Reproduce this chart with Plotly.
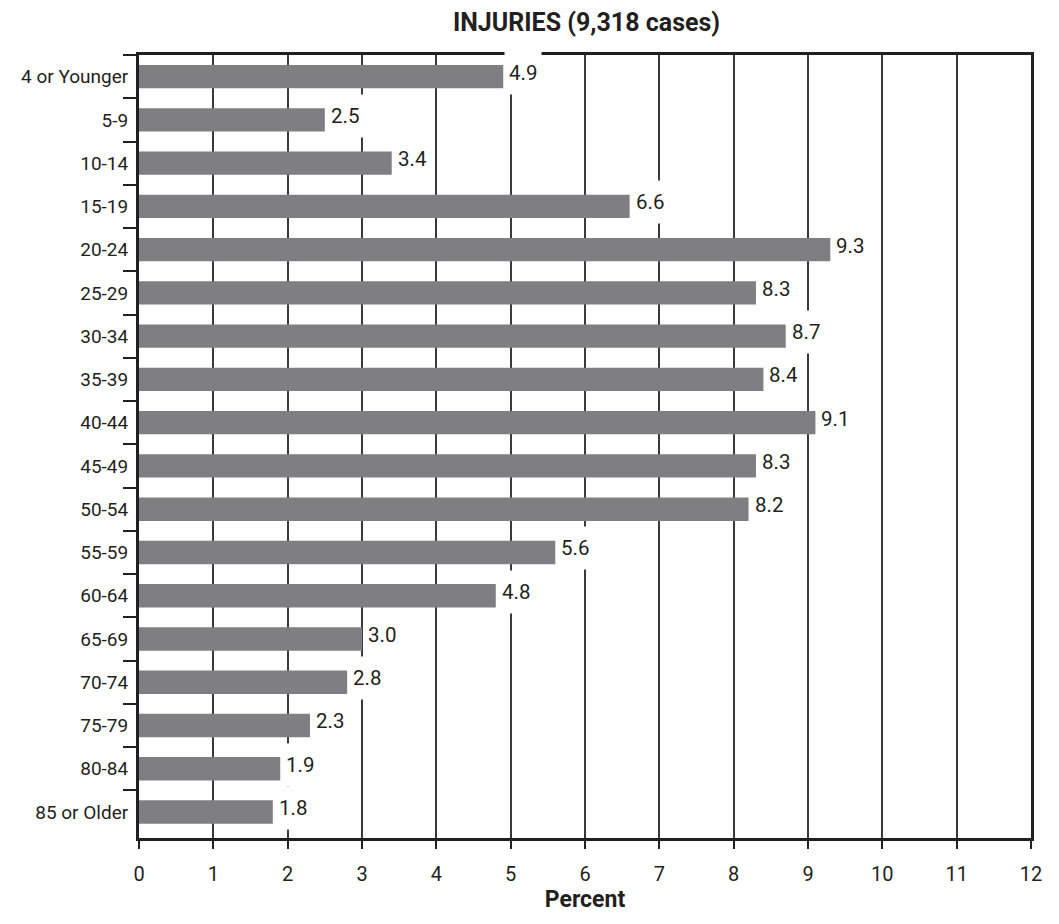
import plotly.graph_objects as go

categories = ["4 or Younger", "5-9", "10-14", "15-19", "20-24", "25-29", "30-34",
              "35-39", "40-44", "45-49", "50-54", "55-59", "60-64", "65-69",
              "70-74", "75-79", "80-84", "85 or Older"]
values = [4.9, 2.5, 3.4, 6.6, 9.3, 8.3, 8.7, 8.4, 9.1, 8.3, 8.2, 5.6, 4.8, 3.0,
          2.8, 2.3, 1.9, 1.8]
x_ticks = list(range(0, 13))
title_text = "INJURIES (9,318 cases)"
x_title = "Percent"

FONT = "Roboto, Liberation Sans, Arial, sans-serif"
INK = "#231f20"

# page body has an 8px margin, so the figure is sized to fit inside it
W, H = 1043, 908
L, R, T, B = 131, 9, 47, 68

fig = go.Figure()
fig.add_trace(go.Bar(
    y=categories, x=values, orientation="h",
    marker=dict(color="#7f7f83", line=dict(width=0)),
    hoverinfo="skip",
))

for c, v in zip(categories, values):
    fig.add_annotation(
        x=v, y=c, xref="x", yref="y", text=f"{v:.1f}",
        showarrow=False, xanchor="left", yanchor="middle",
        bgcolor="white", borderpad=4, height=34, yshift=4, xshift=1,
        font=dict(family=FONT, size=20.5, color=INK),
    )

fig.update_layout(
    width=W, height=H,
    margin=dict(l=L, r=R, t=T, b=B),
    plot_bgcolor="white", paper_bgcolor="white",
    bargap=0.46, showlegend=False,
    title=dict(text=f"<b>{title_text}</b>",
               x=(L + (W - L - R) / 2) / W - 4 / W, xanchor="center",
               y=1 - 14 / H, yanchor="middle",
               font=dict(family=FONT, size=25, color=INK)),
    font=dict(family=FONT, color=INK),
)

fig.update_xaxes(
    range=[0, 12], tickmode="array", tickvals=x_ticks,
    ticktext=[str(t) for t in x_ticks],
    showgrid=True, gridcolor="#3a3a3a", gridwidth=1.6,
    showline=True, linecolor=INK, linewidth=3, mirror=True,
    ticks="outside", ticklen=8, tickwidth=2, tickcolor=INK,
    ticklabelstandoff=8,
    tickfont=dict(family=FONT, size=20, color=INK),
    zeroline=False, fixedrange=True,
    title=dict(text=f"<b>{x_title}</b>", standoff=5,
               font=dict(family=FONT, size=23, color=INK)),
)

fig.update_yaxes(
    type="category", categoryorder="array", categoryarray=categories,
    autorange="reversed",
    showgrid=False, showline=True, linecolor=INK, linewidth=3, mirror=True,
    ticks="outside", tickson="boundaries", ticklen=13, tickwidth=1.5,
    tickcolor=INK, ticklabelstandoff=4,
    tickfont=dict(family=FONT, size=19, color=INK),
    fixedrange=True,
)

fig.write_html("out.html")
